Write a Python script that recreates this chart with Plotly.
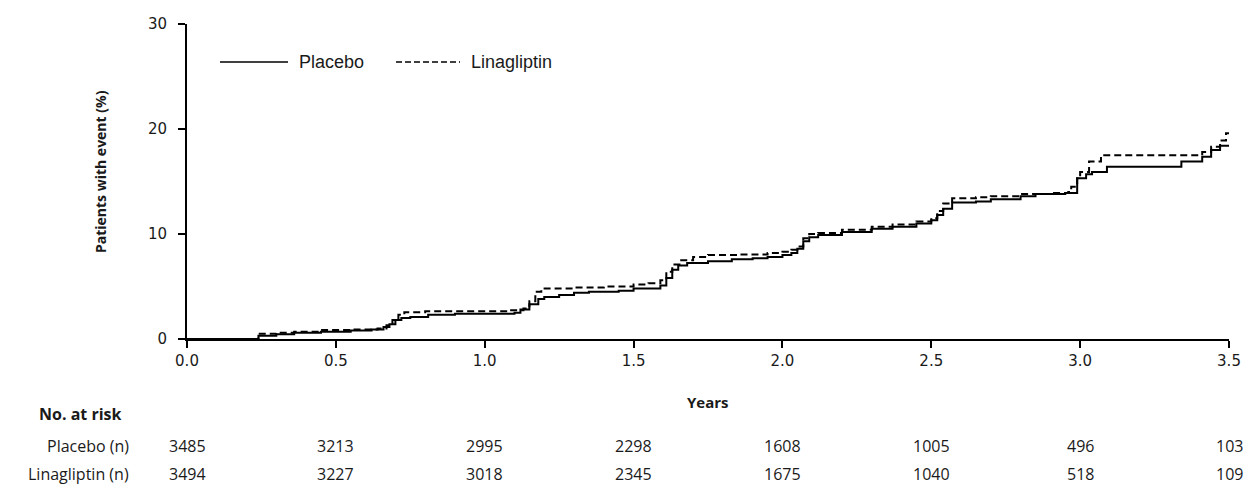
import plotly.graph_objects as go

# ---- data ----
placebo_t = [0, 0.24, 0.30, 0.36, 0.45, 0.55, 0.62, 0.66, 0.68, 0.70, 0.72, 0.75, 0.81, 0.90,
             1.10, 1.12, 1.15, 1.18, 1.20, 1.25, 1.30, 1.35, 1.45, 1.50, 1.59, 1.61, 1.63, 1.65,
             1.68, 1.75, 1.83, 1.90, 1.95, 2.00, 2.03, 2.05, 2.07, 2.09, 2.12, 2.20, 2.30, 2.37,
             2.45, 2.50, 2.52, 2.54, 2.57, 2.65, 2.70, 2.80, 2.85, 2.95, 2.99, 3.02, 3.04, 3.09,
             3.34, 3.41, 3.44, 3.47, 3.50]
placebo_pct = [0, 0.3, 0.45, 0.6, 0.7, 0.8, 0.9, 1.15, 1.4, 1.8, 2.0, 2.1, 2.3, 2.4,
               2.5, 2.8, 3.3, 3.8, 4.0, 4.2, 4.4, 4.5, 4.6, 4.8, 5.1, 5.8, 6.6, 7.0,
               7.25, 7.4, 7.6, 7.7, 7.8, 8.0, 8.2, 8.6, 9.3, 9.7, 9.9, 10.2, 10.5, 10.7,
               11.0, 11.3, 11.8, 12.4, 13.0, 13.1, 13.3, 13.6, 13.8, 13.9, 15.3, 15.7, 15.9, 16.4,
               16.9, 17.35, 18.0, 18.4, 18.4]

lina_t = [0, 0.24, 0.30, 0.36, 0.45, 0.55, 0.64, 0.67, 0.69, 0.71, 0.73, 0.80, 1.08, 1.13,
          1.15, 1.17, 1.19, 1.30, 1.40, 1.50, 1.55, 1.59, 1.61, 1.63, 1.66, 1.70, 1.75, 1.85,
          1.95, 2.00, 2.03, 2.05, 2.07, 2.09, 2.12, 2.20, 2.30, 2.37, 2.45, 2.50, 2.52, 2.54,
          2.57, 2.65, 2.70, 2.80, 2.90, 2.96, 2.97, 2.99, 3.00, 3.03, 3.07, 3.41, 3.44, 3.47,
          3.49, 3.50]
lina_pct = [0, 0.5, 0.6, 0.7, 0.85, 0.9, 1.0, 1.3, 1.8, 2.3, 2.55, 2.65, 2.75, 2.9,
            3.6, 4.5, 4.8, 4.9, 5.0, 5.2, 5.3, 5.6, 6.4, 7.1, 7.5, 7.8, 8.0, 8.05,
            8.2, 8.3, 8.5, 8.8, 9.6, 10.0, 10.1, 10.4, 10.7, 10.9, 11.2, 11.5, 12.2, 12.9,
            13.4, 13.5, 13.6, 13.8, 13.9, 14.0, 14.5, 15.3, 15.9, 16.9, 17.5, 17.8, 18.3, 18.9,
            19.6, 19.6]

x_ticks = [0.0, 0.5, 1.0, 1.5, 2.0, 2.5, 3.0, 3.5]
x_tick_labels = ["0.0", "0.5", "1.0", "1.5", "2.0", "2.5", "3.0", "3.5"]
y_ticks = [0, 10, 20, 30]

series_names = ["Placebo", "Linagliptin"]
risk_labels = ["Placebo (n)", "Linagliptin (n)"]
risk_placebo = [3485, 3213, 2995, 2298, 1608, 1005, 496, 103]
risk_lina = [3494, 3227, 3018, 2345, 1675, 1040, 518, 109]

# ---- figure ----
fig = go.Figure()
fig.add_trace(go.Scatter(x=placebo_t, y=placebo_pct, mode="lines", line_shape="hv",
                         name=series_names[0], cliponaxis=False,
                         line=dict(color="black", width=2)))
fig.add_trace(go.Scatter(x=lina_t, y=lina_pct, mode="lines", line_shape="hv",
                         name=series_names[1], cliponaxis=False,
                         line=dict(color="black", width=2, dash="7px,4px")))

OFF = 8  # page body margin
W, H = 1254 - 2 * OFF, 494 - 2 * OFF
# plot area in page pixels
PX0, PX1, PY0, PY1 = 187, 1229, 24, 338.7
L, R, T, B = PX0 - OFF, W - (PX1 - OFF), PY0 - OFF, H - (PY1 - OFF)
pw, ph = PX1 - PX0, PY1 - PY0


def px_x(px):
    return (px - PX0) / pw


def px_y(py):
    return (PY1 - py) / ph


table_font = dict(family="Open Sans", size=16, color="#1a1a1a")
bold_font = dict(family="Open Sans", size=15, color="#1a1a1a")

annotations = []
# y-axis title
annotations.append(dict(text="<b>Patients with event (%)</b>", xref="paper", yref="paper",
                        x=px_x(100), y=0.53, textangle=-90, showarrow=False,
                        xanchor="center", yanchor="middle",
                        font=dict(family="Open Sans", size=14, color="#1a1a1a")))
# x-axis title
annotations.append(dict(text="<b>Years</b>", xref="paper", yref="paper",
                        x=0.5, y=px_y(402), showarrow=False,
                        xanchor="center", yanchor="middle", font=bold_font))
# risk table
annotations.append(dict(text="<b>No. at risk</b>", xref="paper", yref="paper",
                        x=px_x(37), y=px_y(414), showarrow=False,
                        xanchor="left", yanchor="middle",
                        font=dict(family="Open Sans", size=16, color="#1a1a1a")))
for lab, row, py in zip(risk_labels, [risk_placebo, risk_lina], [446, 474]):
    annotations.append(dict(text=lab, xref="paper", yref="paper", x=px_x(131), y=px_y(py),
                            showarrow=False, xanchor="right", yanchor="middle", font=table_font))
    for xv, n in zip(x_ticks, row):
        annotations.append(dict(text=str(n), xref="x", yref="paper", x=xv, y=px_y(py),
                                showarrow=False, xanchor="center", yanchor="middle",
                                font=table_font))

# manual legend
legend_font = dict(family="Liberation Sans", size=18, color="#1a1a1a")
shapes = [
    dict(type="line", xref="paper", yref="paper", x0=px_x(220), x1=px_x(288),
         y0=px_y(62), y1=px_y(62), line=dict(color="black", width=1.5)),
    dict(type="line", xref="paper", yref="paper", x0=px_x(396), x1=px_x(460),
         y0=px_y(62), y1=px_y(62), line=dict(color="black", width=1.5, dash="6px,3px")),
]
annotations.append(dict(text=series_names[0], xref="paper", yref="paper", x=px_x(297),
                        y=px_y(62), showarrow=False, xanchor="left", yanchor="middle",
                        font=legend_font))
annotations.append(dict(text=series_names[1], xref="paper", yref="paper", x=px_x(469),
                        y=px_y(62), showarrow=False, xanchor="left", yanchor="middle",
                        font=legend_font))

fig.update_layout(
    width=W, height=H,
    margin=dict(l=L, r=R, t=T, b=B, autoexpand=False),
    paper_bgcolor="white", plot_bgcolor="white",
    showlegend=False,
    annotations=annotations,
    shapes=shapes,
)
tick_font = dict(family="DejaVu Sans", size=15, color="#1a1a1a")
fig.update_xaxes(range=[0, 3.5], tickvals=x_ticks, ticktext=x_tick_labels,
                 showline=True, linecolor="black", linewidth=2,
                 ticks="outside", ticklen=7, tickwidth=2, tickcolor="black",
                 showgrid=False, zeroline=False, tickfont=tick_font)
fig.update_yaxes(range=[0, 30], tickvals=y_ticks,
                 showline=True, linecolor="black", linewidth=2,
                 ticks="outside", ticklen=7, tickwidth=2, tickcolor="black",
                 ticklabelstandoff=8,
                 showgrid=False, zeroline=False, tickfont=tick_font)

fig.write_html("out.html", default_width=f"{W}px", default_height=f"{H}px")
